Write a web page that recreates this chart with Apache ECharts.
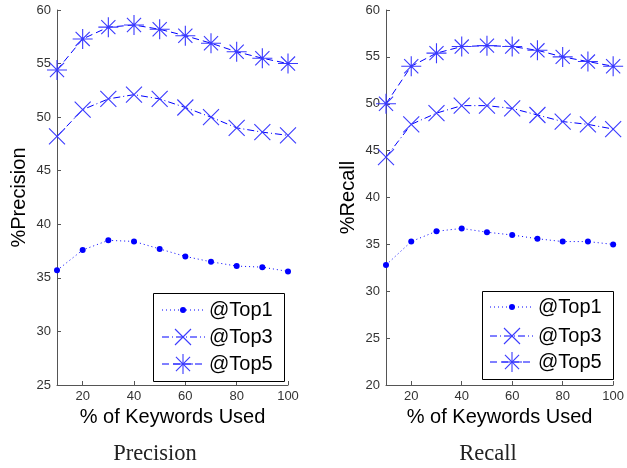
<!DOCTYPE html>
<html>
<head>
<meta charset="utf-8">
<script src="https://cdn.jsdelivr.net/npm/echarts@6/dist/echarts.min.js"></script>
<style>html,body{margin:0;padding:0;background:#fff;}#c{width:627px;height:468px;}</style>
</head>
<body>
<div id="c"></div>
<script>
const xValues = [10, 20, 30, 40, 50, 60, 70, 80, 90, 100];
const xTickLabels = [20, 40, 60, 80, 100];
const seriesNames = ['@Top1', '@Top3', '@Top5'];
const precTop1 = [35.7, 37.6, 38.5, 38.4, 37.7, 37.0, 36.5, 36.1, 36.0, 35.6];
const precTop3 = [48.2, 50.7, 51.7, 52.1, 51.7, 50.9, 50.0, 49.0, 48.6, 48.3];
const precTop5 = [54.4, 57.3, 58.4, 58.6, 58.2, 57.6, 56.9, 56.1, 55.5, 55.0];
const recTop1 = [32.8, 35.3, 36.4, 36.7, 36.3, 36.0, 35.6, 35.3, 35.3, 35.0];
const recTop3 = [44.3, 47.8, 49.0, 49.8, 49.8, 49.5, 48.8, 48.1, 47.8, 47.3];
const recTop5 = [50.0, 54.0, 55.4, 56.1, 56.2, 56.1, 55.7, 55.0, 54.5, 54.0];

const LINE = '#0000ff';
const MARK = '#3a3aff';
const dashes = [[1, 3], [7, 3, 1, 3], [7, 4]];
const X_PATH = 'path://M0,0 L16,16 M16,0 L0,16';
const STAR_PATH = 'path://M10,0 L10,20 M0,10 L20,10 M2.93,2.93 L17.07,17.07 M17.07,2.93 L2.93,17.07';
const symbols = ['circle', X_PATH, STAR_PATH];
const symbolSizes = [6, 16, 20];

function pairs(arr) { return arr.map((v, i) => [xValues[i], v]); }

function mkSeries(gi, arr, k) {
  const isDot = k === 0;
  return {
    type: 'line', xAxisIndex: gi, yAxisIndex: gi, name: seriesNames[k],
    data: pairs(arr), clip: false, animation: false, silent: true,
    symbol: symbols[k], symbolSize: symbolSizes[k], showSymbol: true,
    lineStyle: { color: LINE, width: 1, type: dashes[k] },
    itemStyle: isDot ? { color: LINE } : { color: 'none', borderColor: MARK, borderWidth: 1.1 },
    emphasis: { disabled: true }
  };
}

function xAxis(gi) {
  return {
    gridIndex: gi, type: 'value', min: 10, max: 100,
    name: '% of Keywords Used', nameLocation: 'middle', nameGap: 22,
    nameTextStyle: { fontFamily: 'Liberation Sans', fontSize: 20, color: '#000' },
    axisLine: { show: true, lineStyle: { color: '#555', width: 1 } },
    axisTick: { show: true, inside: true, length: 4, customValues: xTickLabels, lineStyle: { color: '#555' } },
    axisLabel: { customValues: xTickLabels, fontFamily: 'Liberation Sans', fontSize: 13, color: '#333', margin: 5 },
    splitLine: { show: false }
  };
}
function yAxis(gi, min, name) {
  return {
    gridIndex: gi, type: 'value', min: min, max: 60, interval: 5,
    name: name, nameLocation: 'middle', nameGap: 28, nameRotate: 90,
    nameTextStyle: { fontFamily: 'Liberation Sans', fontSize: 20, color: '#000' },
    axisLine: { show: true, lineStyle: { color: '#555', width: 1 } },
    axisTick: { show: true, inside: true, length: 4, lineStyle: { color: '#555' } },
    axisLabel: { fontFamily: 'Liberation Sans', fontSize: 13, color: '#333', margin: 6 },
    splitLine: { show: false }
  };
}

function legendGraphic(bx, by, bw, bh, lx0, lx1, mx, tx, rows) {
  const els = [];
  els.push({ type: 'rect', shape: { x: bx + 0.5, y: by + 0.5, width: bw, height: bh }, style: { fill: '#fff', stroke: '#000', lineWidth: 1 }, z: 10 });
  rows.forEach((ry, k) => {
    els.push({ type: 'line', shape: { x1: lx0, y1: ry, x2: lx1, y2: ry }, style: { stroke: LINE, lineWidth: 1, lineDash: dashes[k] }, z: 11 });
    if (k === 0) {
      els.push({ type: 'circle', shape: { cx: mx, cy: ry, r: 3 }, style: { fill: LINE }, z: 12 });
    } else if (k === 1) {
      els.push({ type: 'line', shape: { x1: mx - 8, y1: ry - 8, x2: mx + 8, y2: ry + 8 }, style: { stroke: MARK, lineWidth: 1.1 }, z: 12 });
      els.push({ type: 'line', shape: { x1: mx + 8, y1: ry - 8, x2: mx - 8, y2: ry + 8 }, style: { stroke: MARK, lineWidth: 1.1 }, z: 12 });
    } else {
      els.push({ type: 'line', shape: { x1: mx, y1: ry - 10, x2: mx, y2: ry + 10 }, style: { stroke: MARK, lineWidth: 1.1 }, z: 12 });
      els.push({ type: 'line', shape: { x1: mx - 10, y1: ry, x2: mx + 10, y2: ry }, style: { stroke: MARK, lineWidth: 1.1 }, z: 12 });
      els.push({ type: 'line', shape: { x1: mx - 7.07, y1: ry - 7.07, x2: mx + 7.07, y2: ry + 7.07 }, style: { stroke: MARK, lineWidth: 1.1 }, z: 12 });
      els.push({ type: 'line', shape: { x1: mx + 7.07, y1: ry - 7.07, x2: mx - 7.07, y2: ry + 7.07 }, style: { stroke: MARK, lineWidth: 1.1 }, z: 12 });
    }
    els.push({ type: 'text', x: tx, y: ry, style: { text: seriesNames[k], fontFamily: 'Liberation Sans', fontSize: 20, fill: '#000', verticalAlign: 'middle', align: 'left' }, z: 12 });
  });
  return els;
}

const chart = echarts.init(document.getElementById('c'), null, { renderer: 'canvas' });
chart.setOption({
  backgroundColor: '#fff',
  animation: false,
  grid: [
    { left: 57, top: 10, width: 231, height: 375 },
    { left: 386, top: 10, width: 231, height: 375 }
  ],
  xAxis: [xAxis(0), xAxis(1)],
  yAxis: [yAxis(0, 25, '%Precision'), yAxis(1, 20, '%Recall')],
  series: [
    mkSeries(0, precTop1, 0), mkSeries(0, precTop3, 1), mkSeries(0, precTop5, 2),
    mkSeries(1, recTop1, 0), mkSeries(1, recTop3, 1), mkSeries(1, recTop5, 2)
  ],
  graphic: [].concat(
    legendGraphic(153, 293, 131, 88, 162, 205, 183, 209, [310, 337, 364]),
    legendGraphic(482, 291, 131, 88, 490, 533, 512, 538, [307, 336, 362]),
    [
      { type: 'text', x: 155, y: 454, style: { text: 'Precision', fontFamily: 'Liberation Serif', fontSize: 22.5, fill: '#222', align: 'center', verticalAlign: 'middle' } },
      { type: 'text', x: 488, y: 454, style: { text: 'Recall', fontFamily: 'Liberation Serif', fontSize: 22.5, fill: '#222', align: 'center', verticalAlign: 'middle' } }
    ]
  )
});
</script>
</body>
</html>
